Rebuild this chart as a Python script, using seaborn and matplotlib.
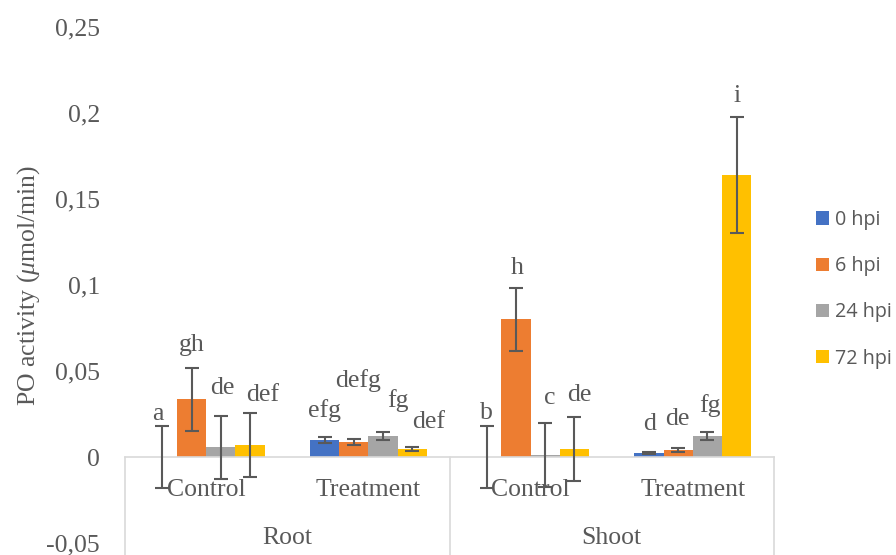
import matplotlib
matplotlib.use("Agg")
import matplotlib.pyplot as plt
from matplotlib.patches import Patch
from matplotlib.ticker import FuncFormatter
import seaborn as sns
import pandas as pd

# Groups along the category axis
tissues = ["Root", "Root", "Shoot", "Shoot"]
conditions = ["Control", "Treatment", "Control", "Treatment"]
time_points = ["0 hpi", "6 hpi", "24 hpi", "72 hpi"]

# PO activity (µmol/min), one list per time point, ordered as the groups
hpi0 = [0.0, 0.0099, 0.0, 0.0023]
hpi6 = [0.0337, 0.0087, 0.0800, 0.0041]
hpi24 = [0.0058, 0.0122, 0.0012, 0.0122]
hpi72 = [0.0070, 0.0047, 0.0047, 0.1640]

# Standard errors
err0 = [0.0180, 0.0020, 0.0180, 0.0006]
err6 = [0.0183, 0.0020, 0.0183, 0.0012]
err24 = [0.0183, 0.0026, 0.0186, 0.0023]
err72 = [0.0186, 0.0012, 0.0186, 0.0337]

# Significance letters
letters0 = ["a", "efg", "b", "d"]
letters6 = ["gh", "defg", "h", "de"]
letters24 = ["de", "fg", "c", "fg"]
letters72 = ["def", "def", "de", "i"]

yticks = [-0.05, 0, 0.05, 0.1, 0.15, 0.2, 0.25]

values = [hpi0, hpi6, hpi24, hpi72]
errors = [err0, err6, err24, err72]
letters = [letters0, letters6, letters24, letters72]

# letter placement (points): lift above the error cap and sideways nudge
lift = [[9, 19, 9.5, 20],
        [16.5, 42, 14.5, 21],
        [19.5, 22, 18, 19],
        [13, 18, 16, 15]]
nudge = [[-3, 0, 0, 0],
         [0, 3, 1, -1],
         [1.5, 11, 3.5, 1.5],
         [9, 11.5, 3.5, 0.5]]

colors = ["#4472C4", "#ED7D31", "#A5A5A5", "#FFC000"]
text_grey = "#595959"
line_grey = "#D9D9D9"

group_keys = [f"{t} {c}" for t, c in zip(tissues, conditions)]
rows = []
for tp, vals in zip(time_points, values):
    for g, v in zip(group_keys, vals):
        rows.append({"group": g, "time": tp, "activity": v})
df = pd.DataFrame(rows)

sns.set_style("white")
plt.rcParams["font.family"] = ["Liberation Serif", "DejaVu Serif"]
plt.rcParams["mathtext.fontset"] = "custom"
plt.rcParams["mathtext.it"] = "Liberation Serif:italic"
plt.rcParams["mathtext.rm"] = "Liberation Serif"

fig = plt.figure(figsize=(8.96, 5.55), dpi=100)
ax = fig.add_axes([125 / 896, 1 - 543 / 555, 649 / 896, 516 / 555])

sns.barplot(data=df, x="group", y="activity", hue="time",
            order=group_keys, hue_order=time_points,
            palette=colors, saturation=1, width=0.72,
            errorbar=None, linewidth=0, ax=ax, legend=False)

ax.set_ylim(-0.05, 0.25)
ax.set_xlim(-0.5, 3.5)
ax.set_yticks(yticks)
ax.yaxis.set_major_formatter(
    FuncFormatter(lambda v, _: f"{v:g}".replace(".", ",")))
ax.tick_params(axis="y", length=0, pad=18, labelsize=18.5,
               labelcolor=text_grey)

# category axis sits on the zero line
for side in ["left", "right", "top"]:
    ax.spines[side].set_visible(False)
ax.spines["bottom"].set_position(("data", 0))
ax.spines["bottom"].set_color(line_grey)
ax.spines["bottom"].set_linewidth(1.2)
ax.set_xticks(range(len(conditions)))
ax.set_xticklabels(conditions)
ax.tick_params(axis="x", length=0, pad=16, labelsize=18.5,
               labelcolor=text_grey)
ax.set_xlabel("")

# tissue separators and tissue labels below the conditions
for xpos in [-0.5, 1.5, 3.5]:
    ax.plot([xpos, xpos], [0, -0.058], color=line_grey, lw=1.2,
            clip_on=False, zorder=0)
for i, tissue in enumerate(["Root", "Shoot"]):
    ax.annotate(tissue, xy=(2 * i + 0.5, 0), xytext=(0, -58),
                textcoords="offset points", ha="center", va="center",
                fontsize=18.5, color=text_grey, annotation_clip=False)

ax.set_ylabel("PO activity ($\\mathit{\\mu}$mol/min)", fontsize=18.5,
              color=text_grey)
ax.yaxis.set_label_coords(-0.128, 0.5)

# error bars and letters on each bar
bar_sets = list(ax.containers)
for k, container in enumerate(bar_sets):
    xs = [b.get_x() + b.get_width() / 2 for b in container]
    hs = [b.get_height() for b in container]
    ax.errorbar(xs, hs, yerr=errors[k], fmt="none", ecolor=text_grey,
                elinewidth=1.5, capsize=4.7, capthick=1.5, zorder=5,
                clip_on=False)
    for j, (x, h) in enumerate(zip(xs, hs)):
        ax.annotate(letters[k][j], xy=(x, h + errors[k][j]),
                    xytext=(nudge[k][j], lift[k][j]),
                    textcoords="offset points", ha="center", va="center",
                    fontsize=18.5, color=text_grey, annotation_clip=False)

handles = [Patch(facecolor=c, edgecolor="none") for c in colors]
leg = ax.legend(handles, time_points, loc="upper left",
                bbox_to_anchor=(816 / 896, 1 - 210 / 555),
                bbox_transform=fig.transFigure, frameon=False,
                handlelength=0.65, handleheight=0.65, handletextpad=0.3,
                labelspacing=1.33, borderpad=0, borderaxespad=0,
                prop={"family": "Open Sans", "size": 14.2})
for t in leg.get_texts():
    t.set_color(text_grey)

fig.savefig("out.png", dpi=100)
